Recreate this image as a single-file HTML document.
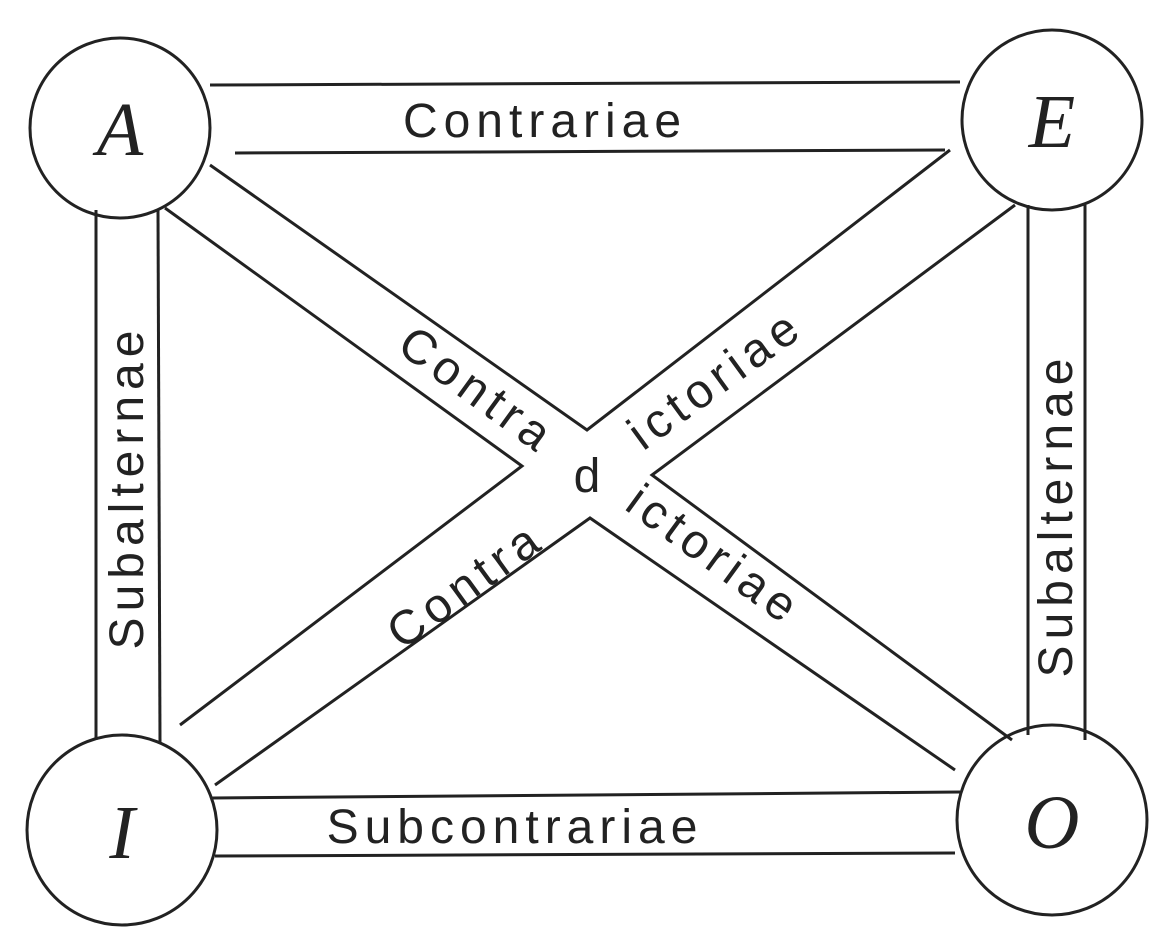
<!DOCTYPE html>
<html><head><style>html,body{margin:0;padding:0;background:#fff}svg{display:block}</style></head>
<body>
<svg width="1174" height="938" viewBox="0 0 1174 938" xmlns="http://www.w3.org/2000/svg">
<g stroke="#222" stroke-width="3" fill="none">
<circle cx="120" cy="128" r="90"/>
<circle cx="1052" cy="120" r="90"/>
<circle cx="122" cy="830" r="95"/>
<circle cx="1052" cy="820" r="95"/>
<line x1="210" y1="85" x2="960" y2="82"/>
<line x1="235" y1="153" x2="945" y2="150"/>
<line x1="212" y1="798" x2="960" y2="792"/>
<line x1="215" y1="856" x2="955" y2="853"/>
<line x1="96" y1="210" x2="96" y2="740"/>
<line x1="158" y1="210" x2="160" y2="742"/>
<line x1="1028" y1="205" x2="1028" y2="735"/>
<line x1="1085" y1="205" x2="1085" y2="740"/>
<polyline points="210,165 587,430 950,150"/>
<polyline points="165,208 522,466 180,725"/>
<polyline points="1015,205 652,475 1012,740"/>
<polyline points="215,785 590,518 955,770"/>
</g>
<g font-family="Liberation Serif, serif" font-style="italic" font-size="76" fill="#222" text-anchor="middle">
<text x="120" y="155">A</text>
<text x="1052" y="147">E</text>
<text x="122" y="858">I</text>
<text x="1052" y="848">O</text>
</g>
<g font-family="Liberation Sans, sans-serif" font-size="48" fill="#222" text-anchor="middle" letter-spacing="6">
<text x="545" y="137">Contrariae</text>
<text x="515" y="843">Subcontrariae</text>
<text transform="translate(143,487) rotate(-90)">Subalternae</text>
<text transform="translate(1072,515) rotate(-90)">Subalternae</text>
<text transform="translate(468,403) rotate(36)">Contra</text>
<text transform="translate(725,392) rotate(-36)">ictoriae</text>
<text x="590" y="492">d</text>
<text transform="translate(475,598) rotate(-36)">Contra</text>
<text transform="translate(705,568) rotate(36)">ictoriae</text>
</g>
</svg>
</body></html>
